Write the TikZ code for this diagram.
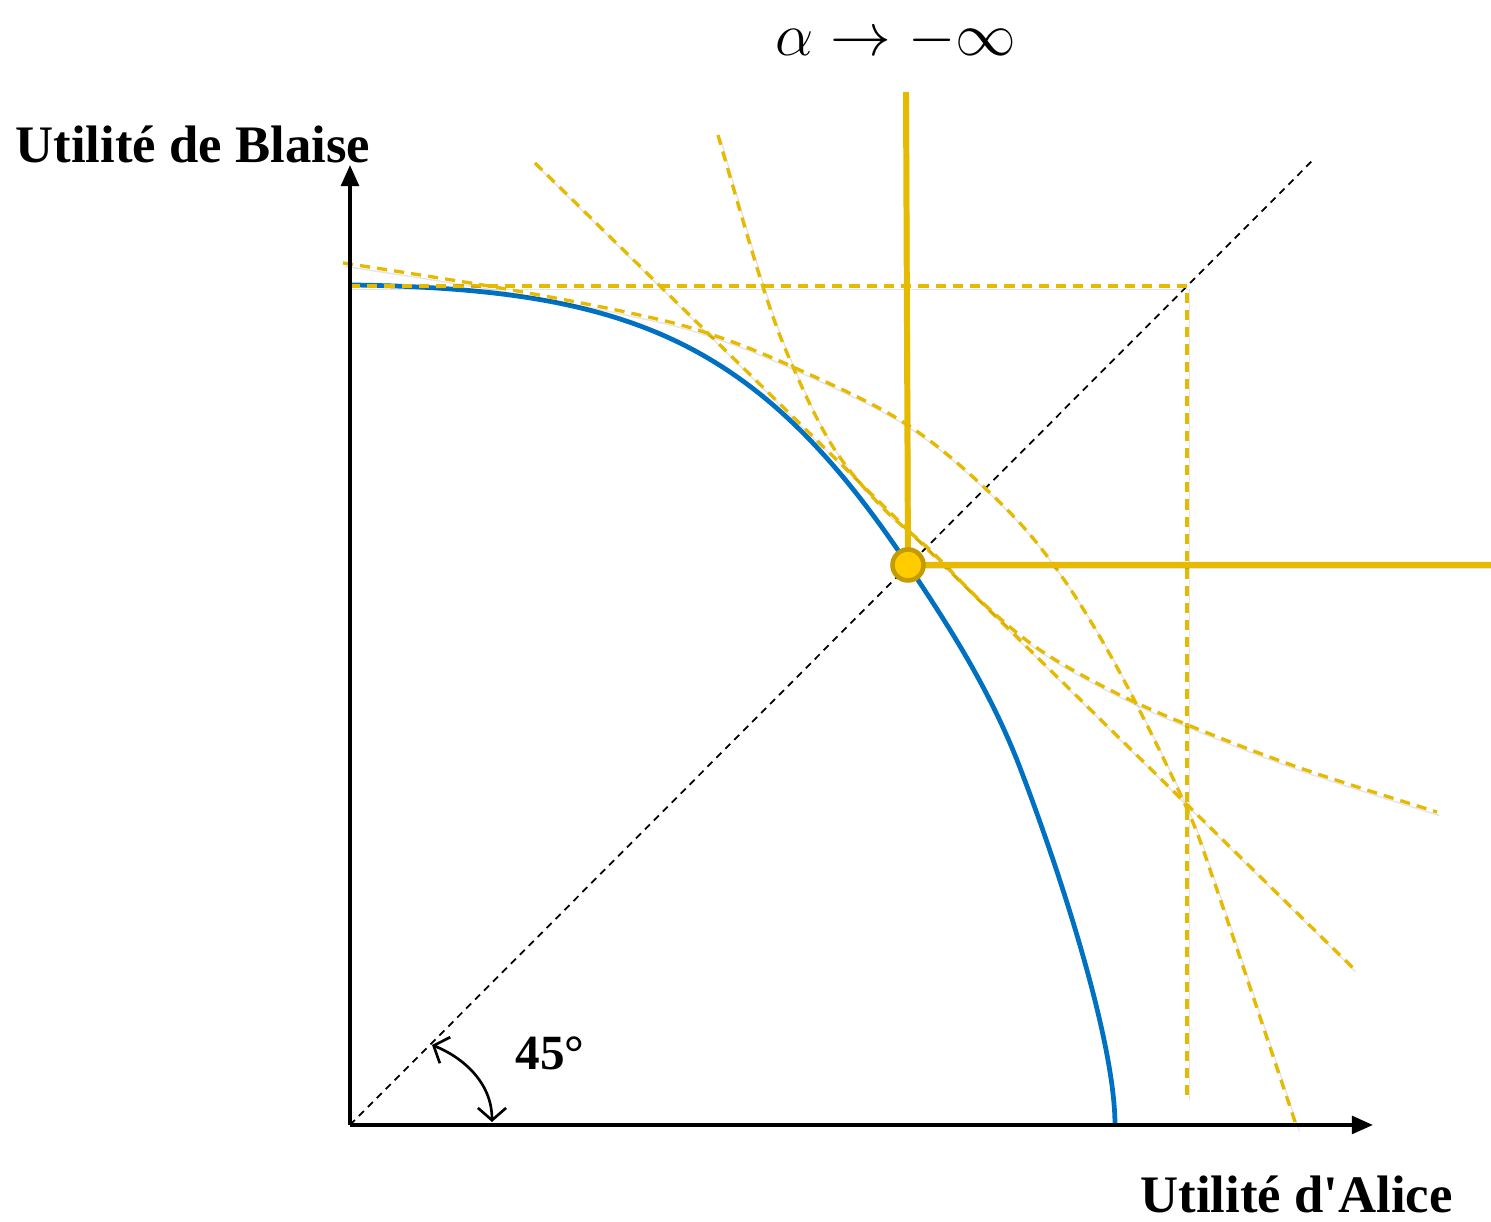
\documentclass[tikz,border=0pt]{standalone}
\usepackage{fontspec}
\setmainfont{Liberation Serif}
\usetikzlibrary{arrows.meta}
\font\aposfont="Liberation Serif/B" at 15pt
\definecolor{gold}{RGB}{230,186,0}
\definecolor{golddark}{RGB}{196,156,0}
\definecolor{goldfill}{RGB}{255,204,0}
\definecolor{frontier}{RGB}{0,112,192}
\tikzset{
  axis/.style={line width=1.1pt, -{Triangle[length=6pt,width=5pt]}},
  shade/.style={preaction={draw=black, opacity=0.1,
      transform canvas={shift={(0.7pt,-1pt)}}}},
  level/.style={gold, line width=0.95pt, dash pattern=on 2.9pt off 2pt, shade},
  rawls/.style={gold, line width=1.7pt, shade},
  lbl/.style={font=\bfseries\fontsize{15}{18}\selectfont, inner sep=0pt},
}
\begin{document}
\begin{tikzpicture}
  \useasboundingbox (0,0) rectangle (14.91,12.22);

  % Key points
  \coordinate (O) at (3.50,0.97);
  \coordinate (P) at (9.08,6.57);
  \coordinate (K) at (11.87,9.36);
  \coordinate (Q) at (10.17,4.62);

  % 45 degree line
  \draw[black, line width=0.5pt, dash pattern=on 2pt off 1.6pt] (O) -- (13.15,10.64);

  % Utility frontier
  \draw[frontier, line width=1.35pt]
    (3.52,9.37) .. controls (6.30,9.33) and (7.58,8.82) .. (P)
    .. controls (9.48,5.97) and (9.87,5.37) .. (Q)
    .. controls (10.52,3.72) and (11.15,1.87) .. (11.15,0.97);

  % alpha -> +infinity: the square corner
  \draw[level] (3.50,9.36) -- (K) -- (11.87,1.25);

  % Other level curves
  \draw[level] (5.35,10.59) -- (13.53,2.54);
  \draw[level] plot[smooth, tension=0.6] coordinates {
    (3.43,9.59) (5.00,9.34) (6.30,9.09) (7.07,8.89) (7.93,8.55) (9.03,8.00)
    (9.87,7.32) (10.50,6.62) (11.13,5.62) (11.83,4.22) (12.17,3.32) (12.97,0.94)};
  \draw[level] plot[smooth, tension=0.6] coordinates {
    (7.18,10.87) (7.63,9.35) (7.93,8.55) (8.33,7.75) (8.80,7.17) (9.30,6.72)
    (9.85,6.17) (10.40,5.72) (11.10,5.32) (11.83,4.99) (13.00,4.54) (14.37,4.10)};

  % Axes
  \draw[axis] (O) -- (3.50,10.57);
  \draw[axis] (O) -- (13.73,0.97);

  % alpha -> -infinity: Rawls
  \draw[rawls] (9.06,11.30) -- (P) -- (14.91,6.57);
  \node[circle, fill=goldfill, draw=golddark, line width=1.3pt,
        minimum size=0.31cm, inner sep=0pt] (opt) at (P) {};

  % Angle
  \draw[line width=0.75pt, {Straight Barb[length=3.5pt,width=8pt]}-{Straight Barb[length=3.5pt,width=8pt]}]
    (4.32,1.77) .. controls (4.62,1.65) and (4.92,1.40) .. (4.92,1.00);
  \node[lbl, font=\bfseries\fontsize{14}{16}\selectfont, anchor=base west] (angle) at (5.15,1.52) {45°};

  % Labels
  \node[lbl, anchor=base west] (ylabel) at (0.15,10.59) {Utilité de Blaise};
  \node[lbl, anchor=base west] (xlabel) at (11.40,0.09) {Utilité d{\aposfont'}Alice};
  \node[inner sep=0pt, anchor=base, font=\fontsize{18.5}{20}\selectfont] (alpha) at (8.96,11.66) {$\alpha \to -\infty$};
\end{tikzpicture}
\end{document}
